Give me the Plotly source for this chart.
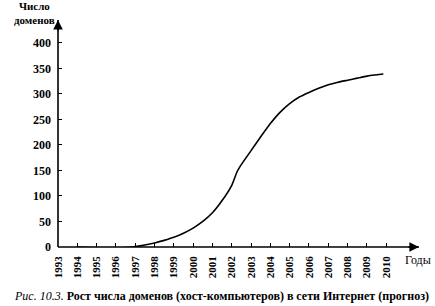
import plotly.graph_objects as go

# Data
years = [1994, 1995, 1995.7, 1996.5, 1997, 1997.5, 1998, 1998.5, 1999, 1999.5, 2000, 2000.5,
         2001, 2001.5, 2002, 2002.27, 2002.45, 2003, 2003.5, 2004, 2004.5, 2005, 2005.5,
         2006, 2006.5, 2007, 2007.5, 2008, 2008.5, 2009, 2009.85]
domains = [0, -1.5, -2, -1, 1, 4, 8, 13, 19, 27, 37, 50,
           67, 91, 121, 147, 159, 189, 216, 242, 264, 281, 294,
           303, 311, 318, 323, 327, 331, 335, 339]
x_ticks = list(range(1993, 2011))
y_ticks = [0, 50, 100, 150, 200, 250, 300, 350, 400]

FONT = "Liberation Serif"
L, R, T, B = 58, 16, 20, 59
W, H = 435, 306
PW, PH = W - L - R, H - T - B


def px(xp):
    return (xp - L) / PW


def py(yp):
    return (H - B - yp) / PH


fig = go.Figure()
fig.add_trace(go.Scatter(x=years, y=domains, mode="lines",
                         line=dict(color="black", width=1.6, shape="spline", smoothing=0.5),
                         cliponaxis=False, hoverinfo="skip", showlegend=False))

fig.update_layout(
    width=W, height=H,
    margin=dict(l=L, r=R, t=T, b=B),
    paper_bgcolor="white", plot_bgcolor="white",
    showlegend=False,
    xaxis=dict(range=[1993, 2011.7], tickvals=x_ticks, ticktext=[str(v) for v in x_ticks],
               tickangle=-90, ticks="inside", ticklen=4, tickwidth=1, tickcolor="black",
               showgrid=False, zeroline=False, showline=False,
               tickfont=dict(family=FONT, size=11, color="black", weight="bold"),
               ticklabelstandoff=6),
    yaxis=dict(range=[0, 445], tickvals=y_ticks, ticktext=[str(v) for v in y_ticks],
               ticks="inside", ticklen=4, tickwidth=1, tickcolor="black",
               showgrid=False, zeroline=False, showline=False,
               tickfont=dict(family=FONT, size=12, color="black", weight="bold"),
               ticklabelstandoff=6),
)

# Axis lines
fig.add_shape(type="line", xref="paper", yref="paper", x0=0, y0=0, x1=1, y1=0,
              line=dict(color="black", width=1.6))
fig.add_shape(type="line", xref="paper", yref="paper", x0=0, y0=0, x1=0, y1=1,
              line=dict(color="black", width=1.6))
# Arrowheads
fig.add_annotation(x=1, y=0, xref="paper", yref="paper", ax=-12, ay=0, text="",
                   showarrow=True, arrowhead=2, arrowsize=1.2, arrowwidth=1.6, arrowcolor="black")
fig.add_annotation(x=0, y=1, xref="paper", yref="paper", ax=0, ay=12, text="",
                   showarrow=True, arrowhead=2, arrowsize=1.2, arrowwidth=1.6, arrowcolor="black")

# Axis titles
fig.add_annotation(x=px(34), y=py(13), xref="paper", yref="paper",
                   text="<b>Число<br>доменов</b>", showarrow=False, align="center",
                   font=dict(family=FONT, size=11, color="black"), xanchor="center", yanchor="middle")
fig.add_annotation(x=px(418), y=py(260), xref="paper", yref="paper",
                   text="Годы", showarrow=False,
                   font=dict(family=FONT, size=12, color="black"), xanchor="center", yanchor="middle")

# Caption
fig.add_annotation(x=px(221), y=py(296), xref="paper", yref="paper",
                   text="<i>Рис. 10.3.</i> <b>Рост числа доменов (хост-компьютеров) в сети Интернет (прогноз)</b>",
                   showarrow=False, font=dict(family=FONT, size=12, color="black"),
                   xanchor="center", yanchor="middle")

fig.write_html("out.html")
